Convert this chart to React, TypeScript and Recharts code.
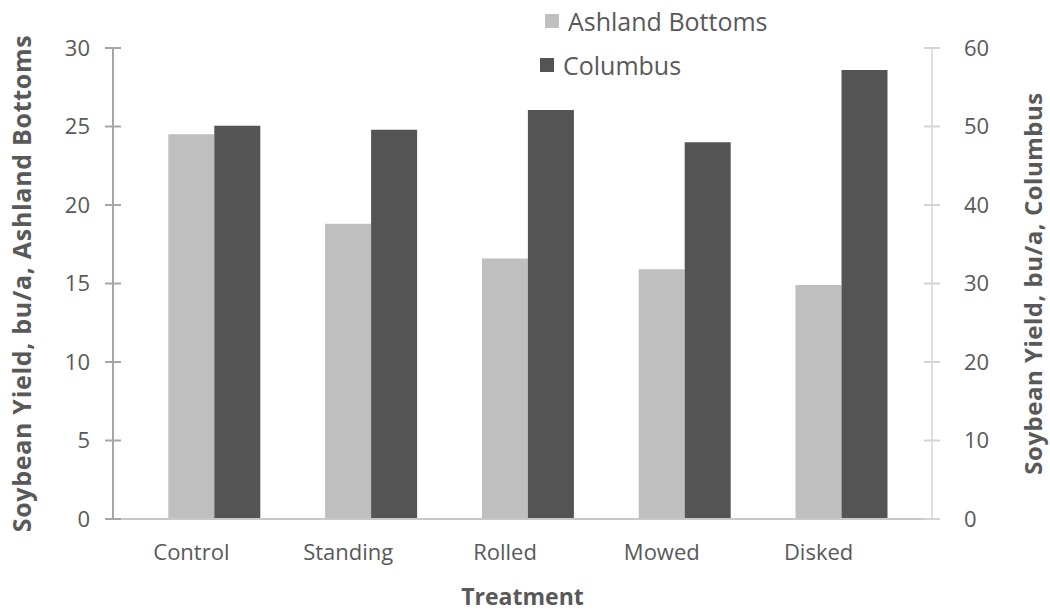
import React from "react";
import { BarChart, Bar, XAxis, YAxis } from "recharts";

const treatments = ["Control", "Standing", "Rolled", "Mowed", "Disked"];
const ashlandBottoms = [24.5, 18.8, 16.6, 15.9, 14.9];
const columbus = [50.1, 49.6, 52.1, 48.0, 57.2];
const leftTicks = [0, 5, 10, 15, 20, 25, 30];
const rightTicks = [0, 10, 20, 30, 40, 50, 60];

const series = [
  { key: "ashland", name: "Ashland Bottoms", color: "#bfbfbf" },
  { key: "columbus", name: "Columbus", color: "#545454" },
];

const data = treatments.map((t, i) => ({
  name: t,
  ashland: ashlandBottoms[i],
  columbus: columbus[i],
}));

const FONT = "'Open Sans', 'Liberation Sans', sans-serif";
const TEXT = "#595959";

const TICK_SIZE = 8;
const LEFT_MARGIN = 15;
const RIGHT_MARGIN = 24;

// tick that crosses the axis line (Excel style)
const makeTick = (side: "left" | "right", stroke: string) => (props: any) => {
  const { x, y, payload } = props;
  const axisX = side === "left" ? x + TICK_SIZE + LEFT_MARGIN : x - TICK_SIZE - RIGHT_MARGIN;
  return (
    <g>
      <line x1={axisX - 8} x2={axisX + 8} y1={y} y2={y} stroke={stroke} strokeWidth={2} />
      <text
        x={x}
        y={y}
        dy="0.35em"
        textAnchor={side === "left" ? "end" : "start"}
        fill={TEXT}
        fontSize={22}
        fontFamily={FONT}
      >
        {payload.value}
      </text>
    </g>
  );
};

// category labels sit a bit left of their bar pair in the original
const CategoryTick = (props: any) => {
  const { x, y, payload } = props;
  return (
    <text x={x - 23} y={y} dy="0.71em" textAnchor="middle" fill={TEXT} fontSize={22} fontFamily={FONT}>
      {payload.value}
    </text>
  );
};

const LegendBox = () => (
  <div
    style={{
      position: "absolute",
      left: 540,
      top: -1,
      fontFamily: FONT,
      color: TEXT,
      fontSize: 25,
    }}
  >
    {series.map((s, i) => (
      <div
        key={s.key}
        style={{ display: "flex", alignItems: "center", height: 44, marginLeft: i === 0 ? 5 : 0 }}
      >
        <span
          style={{ width: 14, height: 14, background: s.color, display: "inline-block", marginRight: 9 }}
        />
        <span>{s.name}</span>
      </div>
    ))}
  </div>
);

export default function App() {
  return (
    <div style={{ position: "absolute", left: 0, top: 0, width: 1050, height: 611, background: "#fff" }}>
      <BarChart
        width={1050}
        height={611}
        data={data}
        margin={{ top: 48, right: 0, bottom: 0, left: 0 }}
        barGap={0}
        barCategoryGap="20.6%"
      >
        <XAxis
          dataKey="name"
          height={92}
          padding={{ left: 23, right: 12 }}
          axisLine={{ stroke: "#c8c8c8", strokeWidth: 2 }}
          tickLine={false}
          tickSize={0}
          tickMargin={25}
          tick={CategoryTick}
          label={{
            value: "Treatment",
            position: "insideBottom",
            offset: 6,
            fill: TEXT,
            fontSize: 23,
            fontWeight: "bold",
            fontFamily: FONT,
          }}
        />
        <YAxis
          yAxisId="left"
          orientation="left"
          width={113}
          domain={[0, 30]}
          ticks={leftTicks}
          interval={0}
          axisLine={{ stroke: "#a6a6a6", strokeWidth: 2 }}
          tickLine={false}
          tickSize={TICK_SIZE}
          tickMargin={LEFT_MARGIN}
          tick={makeTick("left", "#a6a6a6")}
          label={{
            value: "Soybean Yield, bu/a, Ashland Bottoms",
            angle: -90,
            position: "insideLeft",
            offset: 22,
            style: { textAnchor: "middle", letterSpacing: 0.7 },
            fill: TEXT,
            fontSize: 25,
            fontWeight: "bold",
            fontFamily: FONT,
          }}
        />
        <YAxis
          yAxisId="right"
          orientation="right"
          width={118}
          domain={[0, 60]}
          ticks={rightTicks}
          interval={0}
          axisLine={{ stroke: "#d4d4d4", strokeWidth: 1.5 }}
          tickLine={false}
          tickSize={TICK_SIZE}
          tickMargin={RIGHT_MARGIN}
          tick={makeTick("right", "#d4d4d4")}
          label={{
            value: "Soybean Yield, bu/a, Columbus",
            angle: -90,
            position: "insideRight",
            offset: 17,
            style: { textAnchor: "middle", letterSpacing: 0.5 },
            fill: TEXT,
            fontSize: 24,
            fontWeight: "bold",
            fontFamily: FONT,
          }}
        />
        <Bar yAxisId="left" dataKey="ashland" name="Ashland Bottoms" fill="#bfbfbf" isAnimationActive={false} />
        <Bar yAxisId="right" dataKey="columbus" name="Columbus" fill="#545454" isAnimationActive={false} />
      </BarChart>
      <LegendBox />
    </div>
  );
}
